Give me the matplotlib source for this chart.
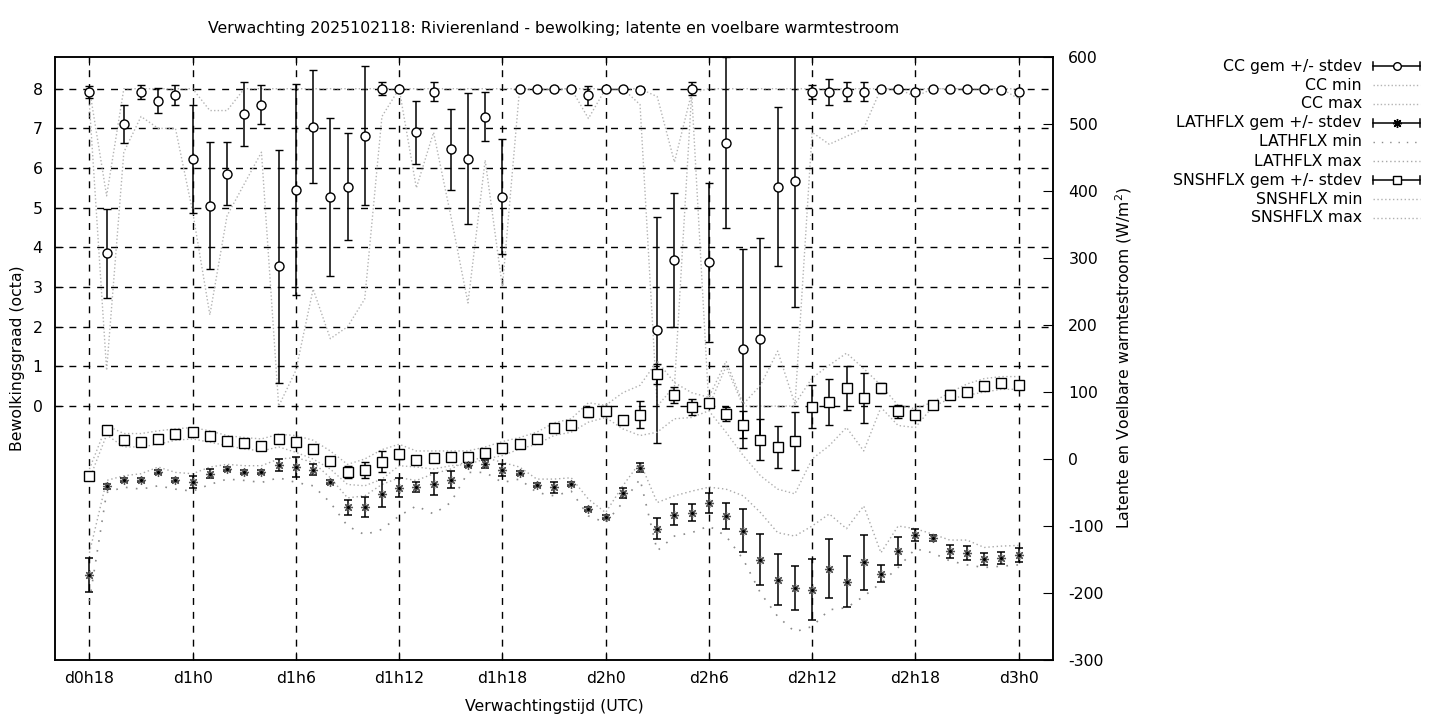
import matplotlib
matplotlib.use("Agg")
import matplotlib.pyplot as plt
from matplotlib.lines import Line2D
import numpy as np

# ---------------- data (hours since d0h0) ----------------
hours = list(range(18, 73))

cc_mean = [7.92, 3.85, 7.12, 7.92, 7.70, 7.85, 6.24, 5.05, 5.86, 7.37, 7.60, 3.52, 5.46,
           7.04, 5.28, 5.53, 6.82, 8.00, 8.00, 6.90, 7.92, 6.48, 6.24, 7.30, 5.28,
           8.00, 8.00, 8.00, 8.00, 7.83, 8.00, 8.00, 7.98, 1.92, 3.68, 8.00, 3.62,
           6.64, 1.45, 1.69, 5.53, 5.68, 7.92, 7.92, 7.92, 7.92, 8.00, 8.00, 7.93,
           8.00, 8.00, 8.00, 8.00, 7.98, 7.92]
cc_sd = [0.15, 1.12, 0.48, 0.17, 0.32, 0.25, 1.36, 1.60, 0.80, 0.81, 0.49, 2.94, 2.65,
         1.42, 1.99, 1.35, 1.75, 0.16, 0.00, 0.80, 0.24, 1.02, 1.66, 0.63, 1.45,
         0.00, 0.00, 0.00, 0.00, 0.24, 0.00, 0.00, 0.07, 2.85, 1.69, 0.16, 2.00,
         2.15, 2.50, 2.56, 2.00, 3.18, 0.17, 0.33, 0.24, 0.24, 0.00, 0.00, 0.05,
         0.00, 0.00, 0.00, 0.00, 0.05, 0.00]
cc_min = [7.60, 0.90, 6.40, 7.30, 7.00, 7.00, 4.90, 2.30, 4.80, 5.60, 6.40, 0.00, 0.90,
          2.95, 1.70, 2.00, 2.70, 7.30, 8.00, 5.50, 6.90, 4.80, 2.60, 6.20, 3.00,
          8.00, 8.00, 8.00, 8.00, 7.25, 8.00, 8.00, 7.60, 0.00, 0.50, 7.90, 0.00,
          1.00, 0.00, 0.00, 0.00, 0.00, 6.90, 6.60, 6.80, 7.00, 8.00, 8.00, 7.80,
          8.00, 8.00, 8.00, 8.00, 8.00, 7.75]
cc_max = [8.00, 5.30, 8.00, 8.00, 8.00, 8.00, 8.00, 7.45, 7.45, 8.00, 8.00, 8.00, 8.00,
          8.00, 8.00, 8.00, 8.00, 8.00, 8.00, 8.00, 8.00, 8.00, 8.00, 8.00, 8.00,
          8.00, 8.00, 8.00, 8.00, 8.00, 8.00, 8.00, 8.00, 7.80, 6.15, 7.90, 8.00,
          8.00, 8.00, 8.00, 8.00, 8.00, 8.00, 8.00, 8.00, 8.00, 8.00, 8.00, 8.00,
          8.00, 8.00, 8.00, 8.00, 8.00, 8.00]

lat_mean = [-173, -41, -31, -32, -19, -31, -34, -22, -15, -19, -19, -9, -12,
            -16, -35, -72, -72, -52, -43, -42, -37, -31, -9, -8, -16,
            -21, -39, -42, -37, -74, -86, -51, -13, -104, -83, -80, -65,
            -85, -107, -150, -180, -192, -195, -164, -183, -154, -171, -137, -114,
            -118, -138, -140, -149, -148, -143]
lat_sd = [25, 4, 3, 3, 3, 3, 9, 7, 3, 3, 3, 9, 15,
          8, 3, 11, 15, 20, 14, 7, 16, 13, 3, 6, 9,
          3, 3, 8, 3, 3, 3, 7, 7, 16, 16, 13, 15,
          19, 32, 38, 38, 33, 46, 44, 38, 41, 13, 21, 9,
          4, 10, 10, 9, 9, 10]
lat_min = [-212, -50, -42, -45, -40, -45, -48, -38, -30, -32, -35, -28, -35,
           -40, -65, -100, -113, -105, -85, -70, -82, -65, -20, -20, -35,
           -30, -50, -55, -48, -85, -95, -65, -30, -137, -115, -110, -100,
           -115, -150, -200, -235, -258, -250, -225, -222, -205, -185, -162, -134,
           -140, -152, -158, -162, -160, -158]
lat_max = [-140, -32, -25, -22, -12, -20, -22, -12, -8, -10, -10, 0, 2,
           -5, -28, -58, -55, -38, -28, -32, -22, -15, -2, 2, -5,
           -12, -30, -30, -28, -60, -80, -40, -5, -65, -55, -48, -42,
           -45, -55, -80, -110, -115, -100, -82, -104, -70, -140, -100, -104,
           -112, -121, -121, -132, -130, -129]

sns_mean = [-25, 44, 29, 26, 30, 37, 41, 35, 27, 24, 20, 30, 25,
            15, -3, -20, -16, -4, 7, -1, 2, 3, 3, 9, 16,
            23, 30, 46, 51, 70, 72, 58, 66, 127, 95, 78, 84,
            67, 51, 29, 18, 27, 78, 85, 106, 91, 106, 71, 65,
            80, 96, 100, 109, 113, 111]
sns_sd = [3, 2, 2, 2, 2, 2, 2, 2, 2, 2, 2, 4, 6,
          2, 2, 9, 12, 16, 7, 2, 6, 4, 4, 2, 4,
          2, 2, 2, 2, 8, 2, 2, 20, 15, 12, 12, 3,
          10, 20, 30, 31, 43, 32, 34, 33, 37, 8, 10, 4,
          3, 7, 5, 5, 5, 5]
sns_min = [-30, 36, 18, 18, 22, 28, 30, 25, 20, 15, 12, 18, 10,
           0, -15, -38, -40, -30, -10, -12, -15, -10, -8, 0, 5,
           15, 22, 35, 40, 55, 62, 45, 35, 40, 60, 62, 72,
           40, 5, -25, -45, -52, 0, 20, 47, 12, 77, 50, 47,
           78, 90, 95, 100, 104, 104]
sns_max = [-15, 50, 38, 38, 42, 45, 47, 42, 35, 32, 30, 37, 35,
           28, 12, -8, 0, 14, 22, 12, 12, 12, 12, 18, 26,
           32, 40, 54, 60, 84, 80, 99, 110, 146, 114, 99, 92,
           146, 82, 110, 161, 82, 121, 140, 158, 135, 110, 80, 75,
           85, 99, 112, 120, 123, 123]

xtick_pos = [18, 24, 30, 36, 42, 48, 54, 60, 66, 72]
xtick_labels = ["d0h18", "d1h0", "d1h6", "d1h12", "d1h18", "d2h0", "d2h6", "d2h12", "d2h18", "d3h0"]
cc_ticks = [0, 1, 2, 3, 4, 5, 6, 7, 8]
flux_ticks = [-300, -200, -100, 0, 100, 200, 300, 400, 500, 600]

title = "Verwachting 2025102118: Rivierenland - bewolking; latente en voelbare warmtestroom"
legend_labels = ["CC gem +/- stdev", "CC min", "CC max",
                 "LATHFLX gem +/- stdev", "LATHFLX min", "LATHFLX max",
                 "SNSHFLX gem +/- stdev", "SNSHFLX min", "SNSHFLX max"]

# ---------------- styling ----------------
W, H = 1440, 720
plt.rcParams['font.family'] = ['DejaVu Sans']
FS = 11.3
fig = plt.figure(figsize=(W / 100, H / 100), dpi=100)
ax = fig.add_axes([55 / W, 1 - 660 / H, (1053 - 55) / W, (660 - 57) / H])
ax2 = ax.twinx()

ls_cc = (0, (1, 1.6))
ls_latmin = (0, (1, 5))
ls_latmax = (0, (1, 2))
ls_sns = (0, (1, 1.8))
c_cc = '#b4b4b4'
c_latmin = '#8a8a8a'
c_latmax = '#a8a8a8'
c_sns = '#b0b0b0'
AST = (8, 2, 0)

# grid
for xv in xtick_pos:
    ax.axvline(xv, color='black', lw=1, ls=(0, (5, 5)), zorder=1)
for yv in cc_ticks:
    ax.axhline(yv, color='black', lw=1, ls=(0, (5, 5)), zorder=1)

# CC
ax.plot(hours, cc_min, color=c_cc, lw=1, ls=ls_cc, zorder=2)
ax.plot(hours, cc_max, color=c_cc, lw=1, ls=ls_cc, zorder=2)
ax.errorbar(hours, cc_mean, yerr=cc_sd, fmt='o', ms=6.5, mfc='white', mec='black', mew=1,
            ecolor='black', elinewidth=1.1, capsize=3, capthick=1.1, zorder=4)

# fluxes (right axis)
ax2.plot(hours, lat_min, color=c_latmin, lw=1.2, ls=ls_latmin, zorder=2)
ax2.plot(hours, lat_max, color=c_latmax, lw=1, ls=ls_latmax, zorder=2)
ax2.errorbar(hours, lat_mean, yerr=lat_sd, fmt='none', ecolor='black', elinewidth=1.1,
             capsize=3, capthick=1.1, zorder=4)
ax2.plot(hours, lat_mean, ls='none', marker=AST, ms=6.5, mec='#555555', mew=0.9, zorder=5)
ax2.plot(hours, lat_mean, ls='none', marker='o', ms=2.2, mfc='black', mec='black', mew=0, zorder=6)

ax2.plot(hours, sns_min, color=c_sns, lw=1, ls=ls_sns, zorder=2)
ax2.plot(hours, sns_max, color=c_sns, lw=1, ls=ls_sns, zorder=2)
ax2.errorbar(hours, sns_mean, yerr=sns_sd, fmt='s', ms=6.5, mfc='white', mec='black', mew=1,
             ecolor='black', elinewidth=1.1, capsize=3, capthick=1.1, zorder=4)

# axes limits / ticks
ax.set_xlim(16, 74)
ax.set_ylim(-6.4, 8.8)
ax2.set_ylim(-300, 600)
ax.set_xticks(xtick_pos)
ax.set_xticklabels(xtick_labels, fontsize=FS)
ax.set_yticks(cc_ticks)
ax.set_yticklabels([str(t) for t in cc_ticks], fontsize=FS)
ax2.set_yticks(flux_ticks)
ax2.set_yticklabels([str(t) for t in flux_ticks], fontsize=FS)
ax.tick_params(axis='x', direction='in', length=6, pad=8, top=True)
ax.tick_params(axis='y', direction='in', length=6, pad=9, right=False)
ax2.tick_params(axis='y', direction='in', length=7, pad=11)
for a in (ax, ax2):
    for s in a.spines.values():
        s.set_linewidth(1.1)
ax2.set_zorder(ax.get_zorder() + 1)
ax2.patch.set_visible(False)

# labels
fig.text(554 / W, 1 - 29 / H, title, ha='center', va='center', fontsize=FS)
fig.text(554 / W, 1 - 706 / H, "Verwachtingstijd (UTC)", ha='center', va='center', fontsize=FS)
fig.text(18 / W, 1 - 358 / H, "Bewolkingsgraad (octa)", ha='center', va='center',
         rotation=90, fontsize=FS)
fig.text(1124 / W, 1 - 358 / H, "Latente en Voelbare warmtestroom (W/m$^2$)", ha='center',
         va='center', rotation=90, fontsize=FS)

# legend (drawn manually, gnuplot style)
row_y = [66, 85, 104, 123, 142, 161, 180, 199, 218]
x_txt, x0, x1 = 1362, 1373, 1420
styles = ['eb_o', (c_cc, ls_cc), (c_cc, ls_cc),
          'eb_*', (c_latmin, ls_latmin), (c_latmax, ls_latmax),
          'eb_s', (c_sns, ls_sns), (c_sns, ls_sns)]
tf = fig.transFigure
for lab, yy, st in zip(legend_labels, row_y, styles):
    fy = 1 - yy / H
    fig.text(x_txt / W, fy, lab, ha='right', va='center', fontsize=FS)
    if isinstance(st, str):
        fig.add_artist(Line2D([x0 / W, x1 / W], [fy, fy], color='black', lw=1.1, transform=tf))
        for xc in (x0, x1):
            fig.add_artist(Line2D([xc / W, xc / W], [fy - 4 / H, fy + 4 / H], color='black',
                                  lw=1.1, transform=tf))
        mk = {'eb_o': 'o', 'eb_*': AST, 'eb_s': 's'}[st]
        xm = (x0 + x1) / 2 / W
        fig.add_artist(Line2D([xm], [fy], marker=mk, ms=5.5 if mk != AST else 6.5,
                              mfc='white', mec='black', mew=1, ls='none', transform=tf))
    else:
        fig.add_artist(Line2D([x0 / W, x1 / W], [fy, fy], color=st[0], lw=1, ls=st[1],
                              transform=tf))

fig.savefig("out.png", dpi=100)
